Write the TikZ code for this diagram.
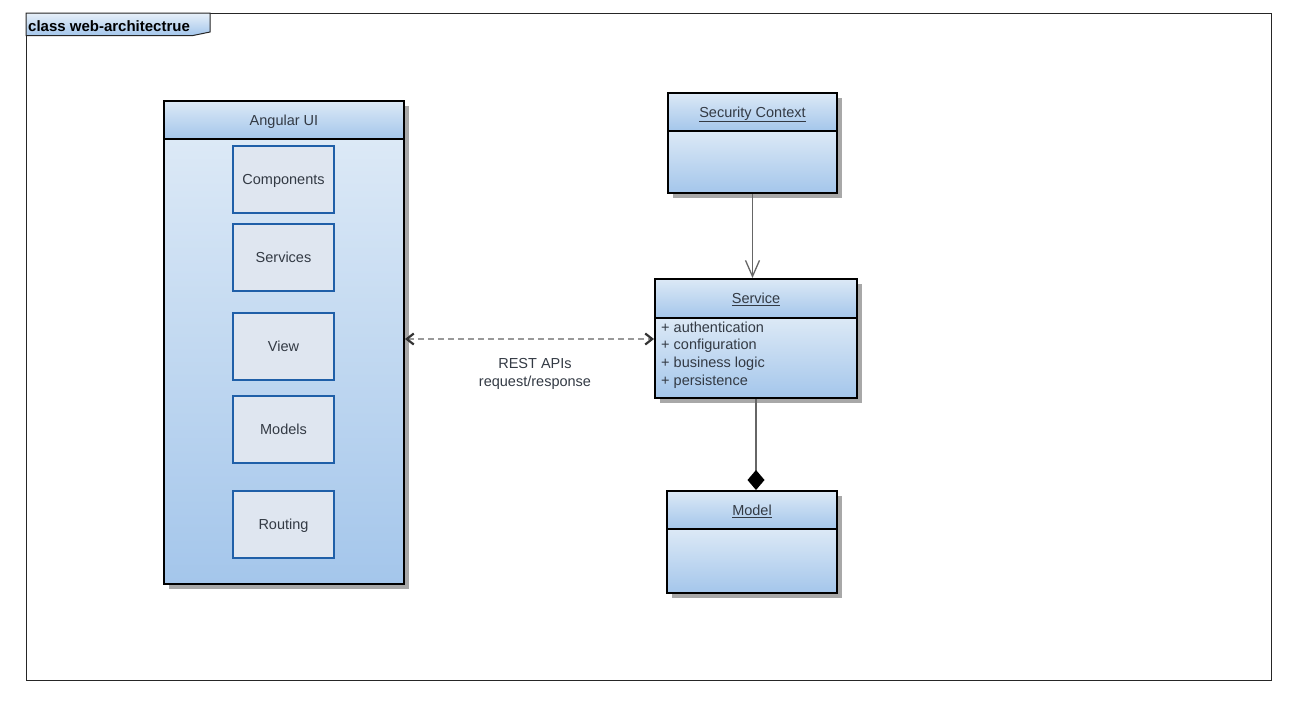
\documentclass[tikz,border=0pt]{standalone}
\usepackage{fontspec}
\setmainfont{Liberation Sans}
\usetikzlibrary{arrows.meta,shadows,calc}
\definecolor{txt}{HTML}{333A44}
\definecolor{boxtop}{HTML}{DCE9F6}
\definecolor{boxbot}{HTML}{A4C6EB}
\definecolor{innerfill}{HTML}{DFE6F0}
\definecolor{innerdraw}{HTML}{1F5FA8}
\definecolor{shadowc}{HTML}{A8A8A8}
\definecolor{dashc}{HTML}{999999}
\definecolor{linec}{HTML}{666666}
\begin{document}
\begin{tikzpicture}[x=1pt,y=-1pt,
  font=\fontsize{14.5}{17.7}\selectfont,
  umlpart/.style={draw=black, line width=2pt, top color=boxtop, bottom color=boxbot,
    inner sep=0pt, anchor=north west, text=txt, text height=10.5pt, text depth=0pt,
    drop shadow={shadow xshift=5pt, shadow yshift=-5pt, fill=shadowc, opacity=1}},
  innerbox/.style={draw=innerdraw, line width=2pt, fill=innerfill, minimum width=101pt,
    minimum height=67pt, inner sep=0pt, text=txt, text height=10.5pt, text depth=0pt},
  attr/.style={anchor=base west, inner sep=0pt, text=txt},
  lbl/.style={anchor=base, inner sep=0pt, text=txt}
]
\useasboundingbox (0,0) rectangle (1296,705);
% frame
\node[draw=black!85, line width=1pt, minimum width=1245pt, minimum height=667pt,
  anchor=north west, inner sep=0pt] (frame) at (26,13) {};
\draw[draw=black!85, line width=1pt, top color=boxtop!70!white, bottom color=boxbot]
  (26,13) -- (210,13) -- (210,32) -- (193,35.5) -- (26,35.5) -- cycle;
\node[anchor=base west, inner sep=0pt, font=\fontsize{15}{17}\selectfont\bfseries] (tabt) at (28,31) {class web-architectrue};

% Angular UI
\node[umlpart, minimum width=240pt, minimum height=38pt] (angH) at (163,100) {Angular UI};
\node[umlpart, minimum width=240pt, minimum height=445pt] (angB) at (163,138) {};
\node[innerbox] (comp) at (283.5,179.5) {Components};
\node[innerbox] (svcs) at (283.5,257) {Services};
\node[innerbox] (view) at (283.5,346) {View};
\node[innerbox] (mods) at (283.5,429.5) {Models};
\node[innerbox] (rout) at (283.5,524) {Routing};

% Security Context
\node[umlpart, minimum width=169pt, minimum height=38pt] (secH) at (667,92) {\underline{Security Context}};
\node[umlpart, minimum width=169pt, minimum height=62pt] (secB) at (667,130) {};

% Service
\node[umlpart, minimum width=202pt, minimum height=39pt] (servH) at (654,278) {\underline{Service}};
\node[umlpart, minimum width=202pt, minimum height=80pt] (servB) at (654,317) {};
\node[attr] (a1) at (661,332) {+ authentication};
\node[attr] (a2) at (661,349.7) {+ configuration};
\node[attr] (a3) at (661,367.3) {+ business logic};
\node[attr] (a4) at (661,385) {+ persistence};

% Model
\node[umlpart, minimum width=170pt, minimum height=38pt] (modH) at (666,490) {\underline{Model}};
\node[umlpart, minimum width=170pt, minimum height=64pt] (modB) at (666,528) {};

% connectors
\draw[linec, line width=1.6pt, -{Straight Barb[length=16pt,width=14pt,line width=1.3pt]}]
  (secB.south) -- (secB.south |- servH.north);
\draw[linec, line width=1.8pt, -{Diamond[length=20pt,width=17pt,fill=black,color=black]}]
  (servB.south) -- (servB.south |- modH.north);
\path (servB.west) ++(0,-19) coordinate (restR);
\draw[dashc, line width=2.5pt, dash pattern=on 6.5pt off 3.5pt,
  {Straight Barb[length=7pt,width=11pt,color=black!80,line width=2.2pt]}-{Straight Barb[length=7pt,width=11pt,color=black!80,line width=2.2pt]}]
  (angB.east |- restR) -- (restR);
\node[lbl] (rest1) at (535,368.5) {REST APIs};
\node[lbl] (rest2) at (535,386) {request/response};
\end{tikzpicture}
\end{document}
